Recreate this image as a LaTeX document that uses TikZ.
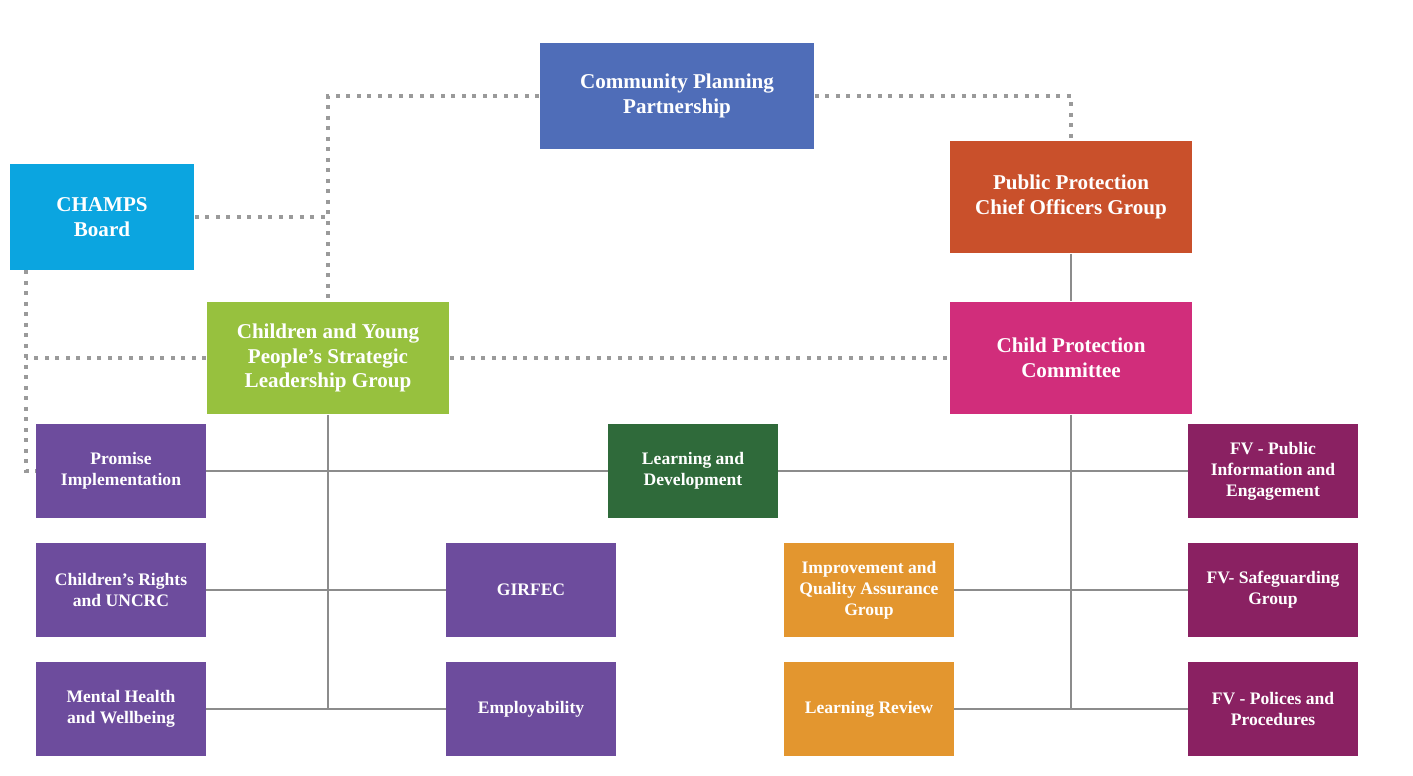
\documentclass[tikz,border=0pt]{standalone}
\usepackage{fontspec}
\setmainfont{Liberation Serif}
\usepackage{tikz}
\usetikzlibrary{calc}
\definecolor{cppblue}{HTML}{4F6DB8}
\definecolor{champsblue}{HTML}{0BA5E0}
\definecolor{chieforange}{HTML}{C9502B}
\definecolor{cypgreen}{HTML}{97C13E}
\definecolor{cpcpink}{HTML}{D12D7B}
\definecolor{subpurple}{HTML}{6D4C9D}
\definecolor{ldgreen}{HTML}{2F6A3A}
\definecolor{qaorange}{HTML}{E3962F}
\definecolor{fvmaroon}{HTML}{8A2162}
\definecolor{linegray}{HTML}{8C8C8C}
\definecolor{dotgray}{HTML}{9A9A9A}
\tikzstyle{box}=[rectangle,text=white,align=center,inner sep=2pt]
\tikzstyle{big}=[box,minimum width=4.86cm,minimum height=2.26cm,font=\large\bfseries]
\tikzstyle{small}=[box,minimum width=3.4cm,minimum height=1.88cm,font=\normalsize\bfseries]
\tikzstyle{link}=[draw=linegray,line width=1.2pt]
\tikzstyle{dots}=[draw=dotgray,line width=1.9pt,dash pattern=on 0.08cm off 0.13cm]

\begin{document}
\begin{tikzpicture}[x=0.02cm,y=-0.02cm]
\useasboundingbox (0,0) rectangle (1413,776);
% top level
\node[big,fill=cppblue,minimum width=5.5cm,minimum height=2.14cm] (cpp) at (677,96) {Community Planning\\Partnership};
\node[big,fill=champsblue,minimum width=3.7cm,minimum height=2.12cm] (champs) at (102,217) {CHAMPS\\Board};
\node[big,fill=chieforange] (chief) at (1071,197) {Public Protection\\Chief Officers Group};
\node[big,fill=cypgreen] (cyp) at (328,358) {Children and Young\\People’s Strategic\\Leadership Group};
\node[big,fill=cpcpink] (cpc) at (1071,358) {Child Protection\\Committee};
% sub groups
\node[small,fill=subpurple] (promise) at (121,471) {Promise\\Implementation};
\node[small,fill=subpurple] (rights) at (121,590) {Children’s Rights\\and UNCRC};
\node[small,fill=subpurple] (mental) at (121,709) {Mental Health\\and Wellbeing};
\node[small,fill=subpurple] (girfec) at (531,590) {GIRFEC};
\node[small,fill=subpurple] (employ) at (531,709) {Employability};
\node[small,fill=ldgreen] (learn) at (693,471) {Learning and\\Development};
\node[small,fill=qaorange] (quality) at (869,590) {Improvement and\\Quality Assurance\\Group};
\node[small,fill=qaorange] (review) at (869,709) {Learning Review};
\node[small,fill=fvmaroon] (fvpublic) at (1273,471) {FV - Public\\Information and\\Engagement};
\node[small,fill=fvmaroon] (fvsafe) at (1273,590) {FV- Safeguarding\\Group};
\node[small,fill=fvmaroon] (fvpolicy) at (1273,709) {FV - Polices and\\Procedures};
% dotted links
\coordinate (rail) at ($(champs.south west)+(17,0)$);
\draw[dots] (cpp.west) -| (cyp.north);
\draw[dots] (champs.east) -- (champs.east -| cyp.north);
\draw[dots] (cpp.east) -| (chief.north);
\draw[dots] (cyp.east) -- (cpc.west);
\draw[dots] (rail) |- (promise.west);
\draw[dots] (cyp.west) -- (cyp.west -| rail);
% solid links
\draw[link] (chief) -- (cpc);
\draw[link] (cyp.south) -- (cyp.south |- mental.east);
\draw[link] (cpc.south) -- (cpc.south |- review.east);
\draw[link] (promise.east) -- (learn.west);
\draw[link] (learn.east) -- (fvpublic.west);
\draw[link] (rights.east) -- (girfec.west);
\draw[link] (mental.east) -- (employ.west);
\draw[link] (quality.east) -- (fvsafe.west);
\draw[link] (review.east) -- (fvpolicy.west);
\end{tikzpicture}
\end{document}
